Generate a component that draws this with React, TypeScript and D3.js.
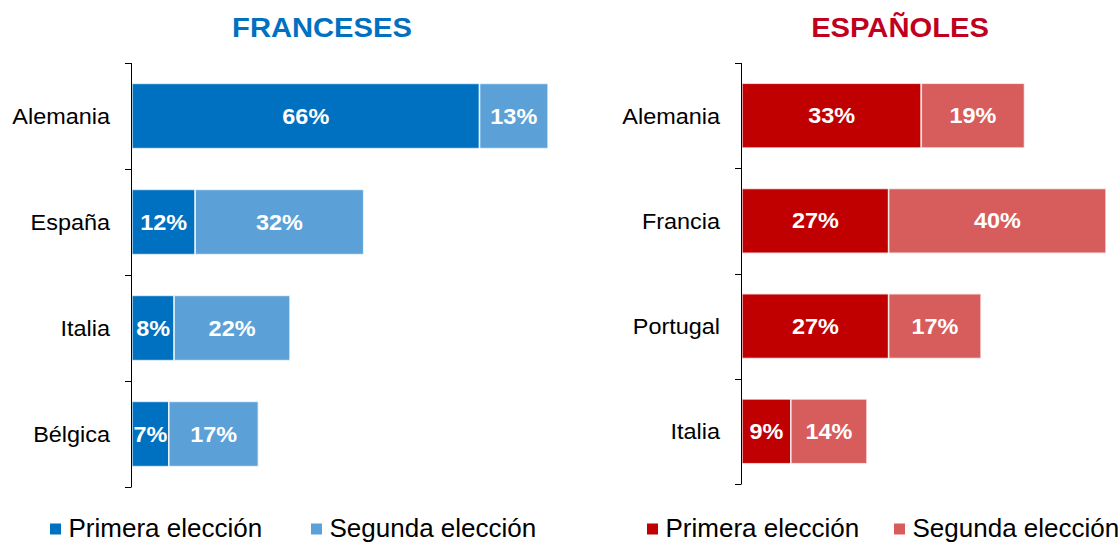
import React from "react";
import * as d3 from "d3";

const frCategories = ["Alemania", "España", "Italia", "Bélgica"];
const frPrimera = [66, 12, 8, 7];
const frSegunda = [13, 32, 22, 17];

const esCategories = ["Alemania", "Francia", "Portugal", "Italia"];
const esPrimera = [33, 27, 27, 9];
const esSegunda = [19, 40, 17, 14];

const seriesNames = ["Primera elección", "Segunda elección"];

const W = 1120;
const H = 542;
const FONT = "'Liberation Sans', Arial, Helvetica, sans-serif";

type TProps = {
  x: number;
  y: number;
  sx: number;
  anchor?: "start" | "middle" | "end";
  size: number;
  bold?: boolean;
  fill: string;
  children: React.ReactNode;
};

function T({ x, y, sx, anchor = "start", size, bold, fill, children }: TProps) {
  return (
    <text
      transform={`translate(${x},${y}) scale(${sx},1)`}
      textAnchor={anchor}
      fontFamily={FONT}
      fontWeight={bold ? "bold" : "normal"}
      fontSize={size}
      fill={fill}
    >
      {children}
    </text>
  );
}

type PanelProps = {
  title: string;
  titleColor: string;
  titleX: number;
  categories: string[];
  primera: number[];
  segunda: number[];
  colors: [string, string];
  axisX: number;
  xEnd: number;
  yTop: number;
  yBottom: number;
  legendX: number[];
};

function Panel(p: PanelProps) {
  const total = d3.max(p.primera.map((v, i) => v + p.segunda[i])) as number;
  const x = d3.scaleLinear().domain([0, total]).range([p.axisX + 1, p.xEnd]);
  const y = d3
    .scaleBand<string>()
    .domain(p.categories)
    .range([p.yTop, p.yBottom])
    .paddingInner(0.385)
    .paddingOuter(0.1925);
  const step = y.step();
  const tickYs = p.categories.map((c) => (y(c) as number) - (step * 0.385) / 2);
  tickYs.push(p.yBottom);

  return (
    <g>
      <T x={p.titleX} y={37} sx={1.08} anchor="middle" size={27} bold fill={p.titleColor}>
        {p.title}
      </T>
      {p.categories.map((c, i) => {
        const y0 = y(c) as number;
        const bh = y.bandwidth();
        const segs = [
          { v0: 0, v1: p.primera[i], color: p.colors[0] },
          { v0: p.primera[i], v1: p.primera[i] + p.segunda[i], color: p.colors[1] },
        ];
        return (
          <g key={c}>
            {segs.map((s, k) => (
              <g key={k}>
                <rect
                  x={x(s.v0)}
                  y={y0}
                  width={x(s.v1) - x(s.v0)}
                  height={bh}
                  fill={s.color}
                  stroke="#ffffff"
                  strokeWidth={1.6}
                  strokeOpacity={0.75}
                />
                <T
                  x={(x(s.v0) + x(s.v1)) / 2}
                  y={y0 + bh / 2 + 7.5}
                  sx={1.09}
                  anchor="middle"
                  size={21.5}
                  bold
                  fill="#ffffff"
                >
                  {`${s.v1 - s.v0}%`}
                </T>
              </g>
            ))}
            <T x={p.axisX - 21} y={y0 + bh / 2 + 8} sx={1.065} anchor="end" size={22} fill="#000">
              {c}
            </T>
          </g>
        );
      })}
      <line
        x1={p.axisX + 0.5}
        x2={p.axisX + 0.5}
        y1={p.yTop}
        y2={p.yBottom}
        stroke="#000"
        strokeWidth={1}
      />
      {tickYs.map((t, i) => (
        <line
          key={i}
          x1={p.axisX - 6}
          x2={p.axisX + 0.5}
          y1={Math.round(t) + 0.5}
          y2={Math.round(t) + 0.5}
          stroke="#000"
          strokeWidth={1}
        />
      ))}
      {seriesNames.map((n, i) => (
        <g key={n}>
          <rect x={p.legendX[i]} y={523.5} width={11} height={11} fill={p.colors[i]} />
          <T x={p.legendX[i] + 18.5} y={537} sx={1} size={26} fill="#000">
            {n}
          </T>
        </g>
      ))}
    </g>
  );
}

export default function App() {
  return (
    <svg
      width={W}
      height={H}
      style={{ position: "absolute", left: 0, top: 0, background: "#fff" }}
    >
      <rect x={0} y={0} width={W} height={H} fill="#fff" />
      <Panel
        title="FRANCESES"
        titleColor="#0070C0"
        titleX={322}
        categories={frCategories}
        primera={frPrimera}
        segunda={frSegunda}
        colors={["#0070C0", "#5BA1D7"]}
        axisX={131}
        xEnd={548}
        yTop={63}
        yBottom={487}
        legendX={[50, 311]}
      />
      <Panel
        title="ESPAÑOLES"
        titleColor="#C0001E"
        titleX={900}
        categories={esCategories}
        primera={esPrimera}
        segunda={esSegunda}
        colors={["#C00000", "#D75C5C"]}
        axisX={741}
        xEnd={1106}
        yTop={63}
        yBottom={484}
        legendX={[647, 894]}
      />
    </svg>
  );
}
